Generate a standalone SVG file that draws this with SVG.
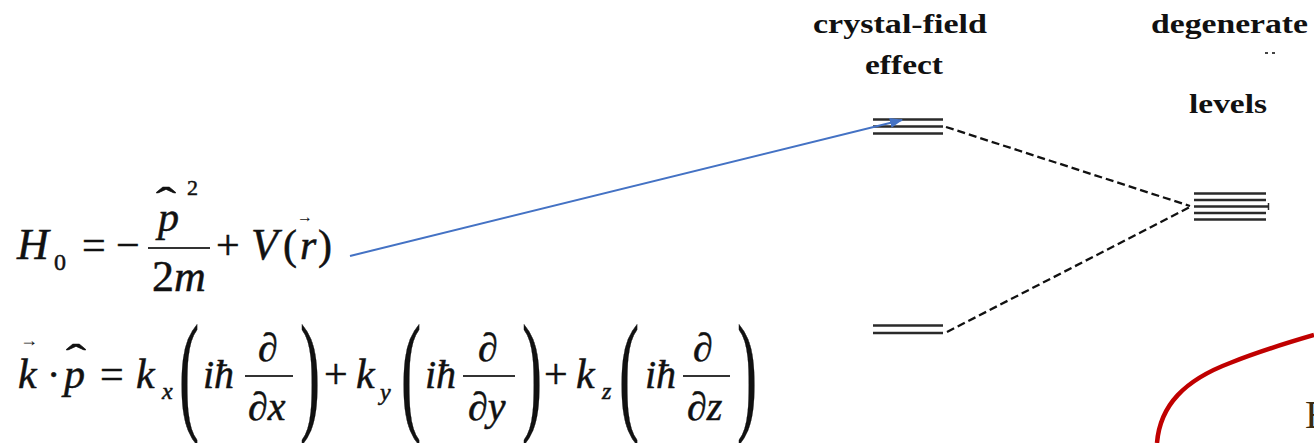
<svg xmlns="http://www.w3.org/2000/svg" width="1314" height="443" viewBox="0 0 1314 443">
<style>
.i{font-style:italic;}
.eq{font-family:"Liberation Serif",serif;fill:#111;stroke:#111;stroke-width:0.5;}
.lvl{stroke:#2a2a2a;stroke-width:2.6;}
.dash{stroke:#111;stroke-width:2.3;stroke-dasharray:8 4;fill:none;}
.bar{stroke:#333;stroke-width:2;}
</style>
<defs>
<marker id="ah" markerWidth="14" markerHeight="10" refX="12" refY="5" orient="auto" markerUnits="userSpaceOnUse">
<path d="M0,0 L13,5 L0,10 z" fill="#4472C4"/>
</marker>
</defs>

<g id="labels" font-family="Liberation Serif" font-weight="bold" font-size="28" fill="#111">
<text x="813" y="33" textLength="174" lengthAdjust="spacingAndGlyphs">crystal-field</text>
<text x="865" y="74" textLength="78" lengthAdjust="spacingAndGlyphs">effect</text>
<text x="1151" y="33" textLength="157" lengthAdjust="spacingAndGlyphs">degenerate</text>
<text x="1189" y="113" textLength="78" lengthAdjust="spacingAndGlyphs">levels</text>
<rect x="1265" y="52" width="3" height="2" fill="#444"/>
<rect x="1272" y="52" width="3" height="2" fill="#444"/>
</g>

<g id="eq-H0" class="eq">
<text class="i" x="17" y="259" font-size="44">H</text>
<text x="54" y="270" font-size="24">0</text>
<text x="82" y="259" font-size="42">=</text>
<text x="116" y="259" font-size="42">−</text>
<line class="bar" x1="148" y1="248" x2="210" y2="248"/>
<text class="i" x="158" y="231" font-size="42">p</text>
<text font-size="40" transform="translate(156,215) scale(1.5,1)">ˆ</text>
<text x="187" y="195" font-size="22">2</text>
<text x="152" y="291" font-size="44">2<tspan class="i">m</tspan></text>
<text x="216" y="259" font-size="42">+</text>
<text class="i" x="251" y="259" font-size="44">V</text>
<text x="283" y="259" font-size="42">(</text>
<text class="i" x="300" y="259" font-size="42">r</text>
<text x="297" y="222" font-size="16" stroke-width="0">→</text>
<text x="318" y="259" font-size="42">)</text>
</g>

<g id="eq-kp" class="eq">
<text x="20" y="346" font-size="18" stroke-width="0">→</text>
<text class="i" x="18" y="388" font-size="42">k</text>
<text x="47" y="388" font-size="40">·</text>
<text class="i" x="64" y="388" font-size="42">p</text>
<text font-size="40" transform="translate(66,372) scale(1.5,1)">ˆ</text>
<text x="100" y="388" font-size="42">=</text>

<text class="i" x="136" y="388" font-size="42">k</text>
<text class="i" x="162" y="399" font-size="24">x</text>
<text font-size="134" transform="translate(179,417) scale(0.45,1)">(</text>
<text class="i" x="203" y="388" font-size="40">iħ</text>
<line class="bar" x1="245" y1="376" x2="293" y2="376"/>
<text x="258" y="361" font-size="40">∂</text>
<text x="248" y="420" font-size="40">∂<tspan class="i">x</tspan></text>
<text font-size="134" transform="translate(300,417) scale(0.45,1)">)</text>

<text x="324" y="388" font-size="42">+</text>
<text class="i" x="356" y="388" font-size="42">k</text>
<text class="i" x="380" y="400" font-size="24">y</text>
<text font-size="134" transform="translate(401,417) scale(0.45,1)">(</text>
<text class="i" x="425" y="388" font-size="40">iħ</text>
<line class="bar" x1="463" y1="376" x2="515" y2="376"/>
<text x="478" y="361" font-size="40">∂</text>
<text x="468" y="420" font-size="40">∂<tspan class="i">y</tspan></text>
<text font-size="134" transform="translate(522,417) scale(0.45,1)">)</text>

<text x="544" y="388" font-size="42">+</text>
<text class="i" x="576" y="388" font-size="42">k</text>
<text class="i" x="602" y="399" font-size="24">z</text>
<text font-size="134" transform="translate(619,417) scale(0.45,1)">(</text>
<text class="i" x="645" y="388" font-size="40">iħ</text>
<line class="bar" x1="683" y1="376" x2="730" y2="376"/>
<text x="693" y="361" font-size="40">∂</text>
<text x="687" y="420" font-size="40">∂<tspan class="i">z</tspan></text>
<text font-size="134" transform="translate(737,417) scale(0.45,1)">)</text>
</g>

<g id="level-upper">
<line class="lvl" x1="873" y1="119.5" x2="943" y2="119.5"/>
<line class="lvl" x1="873" y1="126.5" x2="943" y2="126.5"/>
<line class="lvl" x1="873" y1="133.5" x2="943" y2="133.5"/>
</g>
<g id="level-lower">
<line class="lvl" x1="873" y1="325.5" x2="943" y2="325.5"/>
<line class="lvl" x1="873" y1="333" x2="943" y2="333"/>
</g>
<g id="level-degenerate">
<line class="lvl" x1="1194" y1="193.5" x2="1266" y2="193.5"/>
<line class="lvl" x1="1194" y1="200" x2="1266" y2="200"/>
<line class="lvl" x1="1194" y1="206.5" x2="1268" y2="206.5"/>
<line class="lvl" x1="1194" y1="213" x2="1266" y2="213"/>
<line class="lvl" x1="1194" y1="219.5" x2="1266" y2="219.5"/>
<line x1="1268.5" y1="203" x2="1268.5" y2="210" stroke="#2a2a2a" stroke-width="1.5"/>
</g>

<g id="connectors">
<line class="dash" x1="946" y1="127" x2="1190" y2="206"/>
<line class="dash" x1="947" y1="332" x2="1190" y2="207"/>
<line x1="350" y1="256" x2="902" y2="120" stroke="#4472C4" stroke-width="2" marker-end="url(#ah)"/>
</g>

<g id="red-curve">
<path d="M1157,443 C1160,405 1185,380 1230,363 C1260,351 1290,342 1314,335" fill="none" stroke="#C00000" stroke-width="4.5"/>
</g>
<g id="clipped-letter">
<text x="1305" y="428" font-family="Liberation Serif" font-size="40" fill="#3a2a10">E</text>
</g>
</svg>
